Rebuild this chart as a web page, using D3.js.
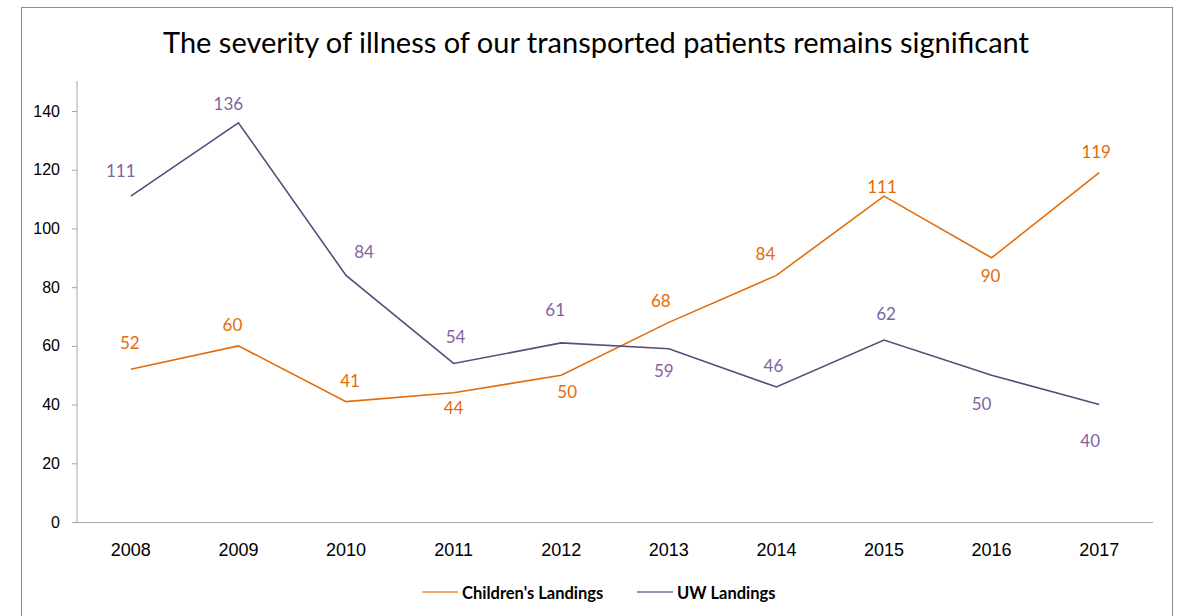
<!DOCTYPE html>
<html><head><meta charset="utf-8">
<script src="https://cdn.jsdelivr.net/npm/d3@7/dist/d3.min.js"></script>
<style>body{margin:0;background:#fff;} svg{display:block;font-family:Lato,"Open Sans",sans-serif;}</style>
</head><body>
<script>
const years = ["2008","2009","2010","2011","2012","2013","2014","2015","2016","2017"];
const childrens = [52,60,41,44,50,68,84,111,90,119];
const uw = [111,136,84,54,61,59,46,62,50,40];
const yTicks = [0,20,40,60,80,100,120,140];
const seriesNames = ["Children's Landings","UW Landings"];
const title = "The severity of illness of our transported patients remains significant";

// label placement offsets (layout only)
const childOffsets = [[-1,-26],[-6,-21],[4,-21],[0,15],[6,17],[-8,-21],[-11,-21],[-2,-9],[-1,18],[-3,-21]];
const uwOffsets = [[-10,-25],[-10,-19],[18,-23],[2,-26],[-6,-33],[-5,22],[-3,-21],[2,-26],[-10,29],[-9,36]];

const W=1186,H=616;
const svg=d3.select("body").append("svg").attr("width",W).attr("height",H);
svg.append("rect").attr("x",21.5).attr("y",7.5).attr("width",1151).attr("height",H).attr("fill","#fff").attr("stroke","#8c8c8c").attr("stroke-width",1);

svg.append("text").attr("x",596).attr("y",53).attr("text-anchor","middle").attr("font-size",29).attr("fill","#000").text(title);

const x=d3.scaleBand().domain(years).range([77,1153]);
const y=d3.scaleLinear().domain([0,140]).range([522,111]);

const gy=svg.append("g").attr("transform","translate(77,0)").call(d3.axisLeft(y).tickValues(yTicks).tickSize(5).tickPadding(12));
gy.select(".domain").attr("stroke","#a6a6a6").attr("d","M0,522V81");
gy.selectAll(".tick line").attr("stroke","#a6a6a6");
gy.selectAll(".tick text").attr("font-size",16).attr("fill","#000");

const gx=svg.append("g").attr("transform","translate(0,522)").call(d3.axisBottom(x).tickSize(0).tickPadding(21));
gx.select(".domain").attr("stroke","#a6a6a6").attr("d","M72,0.5H1153");
gx.selectAll(".tick text").attr("font-size",18).attr("fill","#000");

const cx=d=>x(d)+x.bandwidth()/2;
const orange="#e36c09", purpleLine="#5f497a", purpleLabel="#8064a2";
const line=d3.line().x((d,i)=>cx(years[i])).y(d=>y(d));
svg.append("path").datum(childrens).attr("d",line).attr("fill","none").attr("stroke",orange).attr("stroke-width",1.6);
svg.append("path").datum(uw).attr("d",line).attr("fill","none").attr("stroke",purpleLine).attr("stroke-width",1.6);

svg.selectAll(".lc").data(childrens).enter().append("text").attr("text-anchor","middle").attr("font-size",17).attr("fill",orange)
 .attr("x",(d,i)=>cx(years[i])+childOffsets[i][0]).attr("y",(d,i)=>y(d)+childOffsets[i][1]).attr("dy","0.35em").text(d=>d);
svg.selectAll(".lu").data(uw).enter().append("text").attr("text-anchor","middle").attr("font-size",17).attr("fill",purpleLabel)
 .attr("x",(d,i)=>cx(years[i])+uwOffsets[i][0]).attr("y",(d,i)=>y(d)+uwOffsets[i][1]).attr("dy","0.35em").text(d=>d);

// legend
const leg=[{n:seriesNames[0],c:"#f0883e",x:422},{n:seriesNames[1],c:"#8064a2",x:637}];
leg.forEach(l=>{
  svg.append("line").attr("x1",l.x).attr("x2",l.x+36).attr("y1",592).attr("y2",592).attr("stroke",l.c).attr("stroke-width",1.6);
  svg.append("text").attr("x",l.x+40).attr("y",593).attr("dy","0.35em").attr("font-size",16.5).attr("font-weight","bold").attr("fill","#000").text(l.n);
});
</script>
</body></html>
